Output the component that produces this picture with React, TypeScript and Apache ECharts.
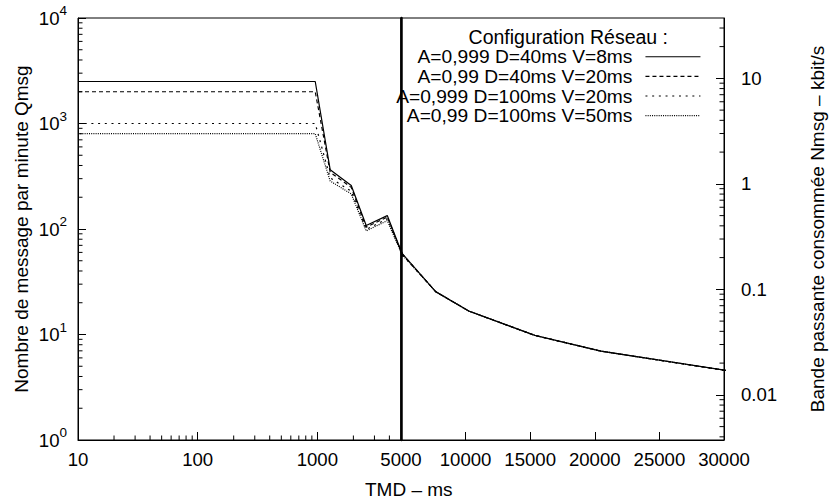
import React, { useEffect, useRef } from 'react';
import * as echarts from 'echarts';

// ---- data ----
const tmd = [10, 960, 1280, 1920, 2560, 3840, 5120, 7680, 10240, 15360, 20480, 30720];
const seriesNames = [
  'A=0,999 D=40ms V=8ms',
  'A=0,99 D=40ms V=20ms',
  'A=0,999 D=100ms V=20ms',
  'A=0,99 D=100ms V=50ms',
];
const qS1 = [2500, 2500, 365, 258, 108, 134, 58, 25.5, 16.7, 9.8, 6.95, 4.45];
const qS2 = [2000, 2000, 345, 248, 104, 130, 57.5, 25.5, 16.7, 9.8, 6.95, 4.45];
const qS3 = [1000, 1000, 305, 228, 99, 125, 57, 25.5, 16.7, 9.8, 6.95, 4.45];
const qS4 = [800, 800, 285, 215, 96, 120, 56.5, 25.5, 16.7, 9.8, 6.95, 4.45];
const dashTypes: any[] = ['solid', [4, 3], [2, 4.7], [1, 1.2]];

// conversion Qmsg (msg/min) -> Nmsg (kbit/s): 224 bits per message
const bitsPerMessage = 224;
const qMin = 1;
const qMax = 10000;

// minor ticks
const leftMinor = [1, 10, 100, 1000].flatMap((d) => [2, 3, 4, 5, 6, 7, 8, 9].map((k) => k * d));
const xMinor = [20, 30, 40, 50, 60, 70, 80, 90, 200, 300, 400, 500, 600, 700, 800, 900, 2000, 3000, 4000];
const rightMinor = [
  0.004, 0.005, 0.006, 0.007, 0.008, 0.009,
  0.02, 0.03, 0.04, 0.05, 0.06, 0.07, 0.08, 0.09,
  0.2, 0.3, 0.4, 0.5, 0.6, 0.7, 0.8, 0.9,
  2, 3, 4, 5, 6, 7, 8, 9, 20, 30,
];

const FONT = 'Liberation Sans';
const FS = 18.6; // tick labels
const FS_KEY_TITLE = 19.5; // key title
const FS_KEY = 19.2; // legend entries
const FS_NAME = 19; // axis titles

function tickSeries(xAxisIndex: number, yAxisIndex: number, data: number[][], dx: number, dy: number) {
  return {
    type: 'custom',
    xAxisIndex,
    yAxisIndex,
    silent: true,
    clip: false,
    z: 5,
    encode: { x: 0, y: 1 },
    data,
    renderItem: (params: any, api: any) => {
      const p = api.coord([api.value(0), api.value(1)]);
      return {
        type: 'line',
        shape: { x1: p[0], y1: p[1], x2: p[0] + dx * 4.5, y2: p[1] + dy * 4.5 },
        style: { stroke: '#000', lineWidth: 1 },
      };
    },
  };
}

export default function App() {
  const ref = useRef<HTMLDivElement>(null);
  useEffect(() => {
    if (!ref.current) return;
    const chart = echarts.init(ref.current, null, { renderer: 'svg' });
    const qs = [qS1, qS2, qS3, qS4];
    const lineSeries: any[] = [];
    [0, 1].forEach((g) => {
      qs.forEach((q, i) => {
        lineSeries.push({
          type: 'line',
          name: seriesNames[i],
          xAxisIndex: g,
          yAxisIndex: g === 0 ? 0 : 2,
          data: tmd.map((x, j) => [x, q[j]]),
          symbol: 'none',
          clip: true,
          lineStyle: { color: '#000', width: 1.2, type: dashTypes[i] },
          itemStyle: { color: '#000' },
        });
      });
    });
    const labelStyle = { color: '#000', fontFamily: FONT, fontSize: FS };
    const option: any = {
      animation: false,
      backgroundColor: '#fff',
      textStyle: { fontFamily: FONT, color: '#000' },
      title: [
        {
          text: 'Configuration Réseau :',
          right: 163,
          top: 27,
          padding: 0,
          textStyle: { fontFamily: FONT, fontSize: FS_KEY_TITLE, fontWeight: 'normal', color: '#000' },
        },
        {
          text: 'TMD – ms',
          left: 365,
          top: 480,
          padding: 0,
          textStyle: { fontFamily: FONT, fontSize: FS_NAME, fontWeight: 'normal', color: '#000' },
        },
      ],
      legend: {
        data: seriesNames,
        orient: 'vertical',
        right: 130,
        top: 47,
        padding: 0,
        align: 'right',
        itemWidth: 55,
        itemHeight: 10,
        itemGap: 0,
        selectedMode: false,
        itemStyle: { opacity: 0 },
        lineStyle: { width: 1.1 },
        textStyle: { fontFamily: FONT, fontSize: FS_KEY, color: '#000', lineHeight: 19.6, padding: [0, 8, 0, 0] },
      },
      grid: [
        { left: 78, top: 18, width: 323, height: 422, show: true, borderColor: '#000', borderWidth: 1, outerBoundsMode: 'none' },
        { left: 401, top: 18, width: 323, height: 422, show: true, borderColor: '#000', borderWidth: 1, outerBoundsMode: 'none' },
      ],
      xAxis: [
        {
          type: 'log',
          gridIndex: 0,
          logBase: 10,
          min: 10,
          max: 5000,
          axisLine: { show: true, lineStyle: { color: '#000', width: 1 } },
          axisTick: { show: true, inside: true, length: 8, lineStyle: { color: '#000' } },
          axisLabel: {
            ...labelStyle,
            margin: 10,
            showMaxLabel: false,
            formatter: (v: number) => String(Math.round(v)),
          },
          splitLine: { show: false },
          minorTick: { show: false },
        },
        {
          type: 'value',
          gridIndex: 1,
          min: 5000,
          max: 30000,
          interval: 5000,
          axisLine: { show: true, lineStyle: { color: '#000', width: 1 } },
          axisTick: { show: true, inside: true, length: 8, lineStyle: { color: '#000' } },
          axisLabel: { ...labelStyle, margin: 10, formatter: (v: number) => String(Math.round(v)) },
          splitLine: { show: false },
        },
      ],
      yAxis: [
        {
          type: 'log',
          gridIndex: 0,
          logBase: 10,
          min: qMin,
          max: qMax,
          position: 'left',
          name: 'Nombre de message par minute Qmsg',
          nameLocation: 'middle',
          nameGap: 47,
          nameRotate: 90,
          nameTextStyle: { fontFamily: FONT, fontSize: FS_NAME, color: '#000' },
          axisLine: { show: true, lineStyle: { color: '#000', width: 1 } },
          axisTick: { show: true, inside: true, length: 8, lineStyle: { color: '#000' } },
          axisLabel: {
            color: '#000',
            margin: 11,
            formatter: (v: number) => '{b|10}{s|' + Math.round(Math.log10(v)) + '}',
            rich: {
              b: { fontFamily: FONT, fontSize: FS, color: '#000' },
              s: { fontFamily: FONT, fontSize: 13.5, color: '#000', padding: [0, 0, 15, 0] },
            },
          },
          splitLine: { show: false },
        },
        {
          type: 'log',
          gridIndex: 1,
          logBase: 10,
          min: (qMin * bitsPerMessage) / 60000,
          max: (qMax * bitsPerMessage) / 60000,
          position: 'right',
          name: 'Bande passante consommée Nmsg – kbit/s',
          nameLocation: 'middle',
          nameGap: 84,
          nameRotate: 90,
          nameTextStyle: { fontFamily: FONT, fontSize: FS_NAME, color: '#000' },
          axisLine: { show: true, lineStyle: { color: '#000', width: 1 } },
          axisTick: { show: true, inside: true, length: 8, lineStyle: { color: '#000' } },
          axisLabel: {
            ...labelStyle,
            margin: 17,
            showMinLabel: false,
            showMaxLabel: false,
            formatter: (v: number) => String(Number(v.toPrecision(6))),
          },
          splitLine: { show: false },
        },
        {
          type: 'log',
          gridIndex: 1,
          logBase: 10,
          min: qMin,
          max: qMax,
          position: 'left',
          axisLine: { show: true, lineStyle: { color: '#000', width: 2.5 } },
          axisTick: { show: false },
          axisLabel: { show: false },
          splitLine: { show: false },
        },
      ],
      series: [
        ...lineSeries,
        tickSeries(0, 0, leftMinor.map((v) => [10, v]), 1, 0),
        tickSeries(0, 0, xMinor.map((v) => [v, qMin]), 0, -1),
        tickSeries(1, 1, rightMinor.map((v) => [30000, v]), -1, 0),
      ],
    };
    chart.setOption(option);
    return () => chart.dispose();
  }, []);
  return <div ref={ref} style={{ position: 'absolute', left: 0, top: 0, width: 831, height: 504 }} />;
}
